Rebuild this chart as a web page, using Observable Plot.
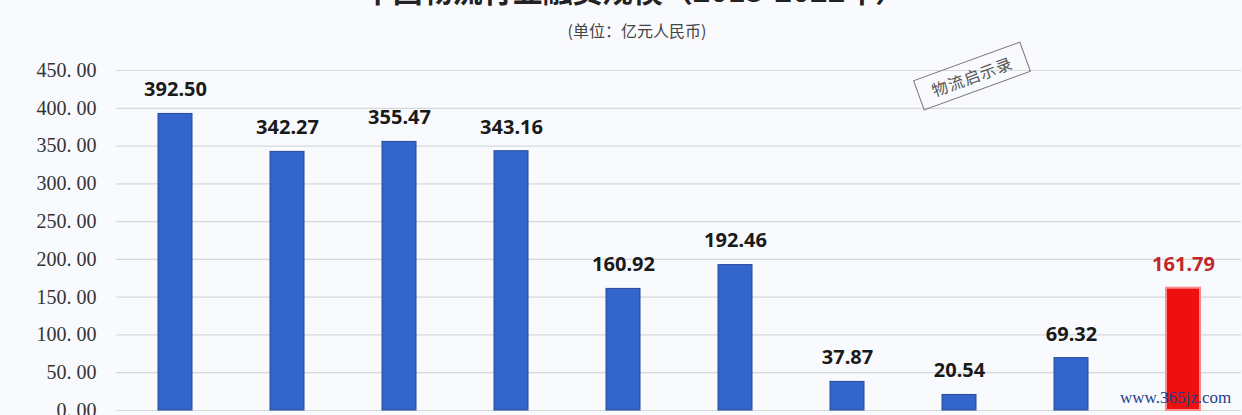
<!DOCTYPE html>
<html>
<head>
<meta charset="utf-8">
<script src="https://cdn.jsdelivr.net/npm/d3@7"></script>
<script src="https://cdn.jsdelivr.net/npm/@observablehq/plot@0.6"></script>
<style>
  html, body { margin: 0; padding: 0; background: #f9fafd; }
  #wrap { position: relative; width: 1242px; height: 415px; overflow: hidden; background: #f9fafd; }
  #title { position: absolute; left: 0; width: 1268px; top: -26px; text-align: center;
           font: bold 30px/30px "Noto Sans CJK SC", sans-serif; color: #222; }
  #subtitle { position: absolute; left: 0; width: 1274px; top: 20px; text-align: center;
              font: 16px/20px "Noto Sans CJK SC", sans-serif; color: #444; }
  #chart { position: absolute; left: 0; top: 0; }
  #stamp { position: absolute; left: 915px; top: 60px; width: 112px; height: 30px; border: 1.3px solid #777;
           transform: rotate(-20deg); text-align: center; font: 16px/30px "Noto Sans CJK SC", sans-serif;
           color: #555; letter-spacing: 1px; }
  #site { position: absolute; left: 1120px; top: 388px; font: 17px/20px "Liberation Serif", serif; color: #1c3f8c; }
</style>
</head>
<body>
<div id="wrap">
  <div id="chart"></div>
  <div id="title">中国物流行业融资规模（2013-2022年）</div>
  <div id="subtitle">(单位：亿元人民币)</div>
  <div id="stamp">物流启示录</div>
  <div id="site">www.365jz.com</div>
</div>
<script>
const categories = ["2013", "2014", "2015", "2016", "2017", "2018", "2019", "2020", "2021", "2022"];
const values = [392.50, 342.27, 355.47, 343.16, 160.92, 192.46, 37.87, 20.54, 69.32, 161.79];
const highlight = [false, false, false, false, false, false, false, false, false, true];
const yTicks = [0, 50, 100, 150, 200, 250, 300, 350, 400, 450];
const yTickLabels = ["0. 00", "50. 00", "100. 00", "150. 00", "200. 00", "250. 00", "300. 00", "350. 00", "400. 00", "450. 00"];

const data = categories.map((c, i) => ({ cat: c, value: values[i], hi: highlight[i] }));

const chart = Plot.plot({
  width: 1242,
  height: 470,
  marginTop: 70,
  marginBottom: 60,
  marginLeft: 116,
  marginRight: 1,
  style: { background: "transparent", overflow: "visible" },
  x: { domain: categories, padding: 0, label: null, axis: null },
  y: { domain: [0, 450], label: null },
  marks: [
    Plot.gridY(yTicks, { stroke: "#d6d8dc", strokeOpacity: 1, strokeWidth: 1.2 }),
    Plot.axisY(yTicks, {
      tickSize: 0, tickPadding: 20,
      tickFormat: (d) => yTickLabels[yTicks.indexOf(d)],
      fontSize: 20, fill: "#333",
      fontFamily: "Liberation Serif, serif",
      label: null
    }),
    Plot.barY(data.filter(d => !d.hi), {
      x: "cat", y: "value", insetLeft: 39, insetRight: 39,
      fill: "#3366cc", stroke: "#27499a", strokeWidth: 1
    }),
    Plot.barY(data.filter(d => d.hi), {
      x: "cat", y: "value", insetLeft: 39, insetRight: 39,
      fill: "#ee0f0f", stroke: "#ff8a8a", strokeWidth: 2
    }),
    Plot.text(data, {
      x: "cat", y: "value",
      text: (d) => d.value.toFixed(2),
      dy: -24, lineAnchor: "middle",
      fontSize: 20, fontWeight: "bold",
      fontFamily: "Noto Sans, sans-serif",
      fill: (d) => d.hi ? "#c0282a" : "#1a1a1a"
    })
  ]
});
document.getElementById("chart").appendChild(chart);
</script>
</body>
</html>
